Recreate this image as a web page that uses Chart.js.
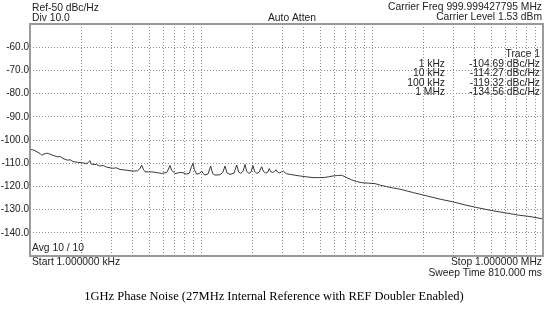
<!DOCTYPE html>
<html>
<head>
<meta charset="utf-8">
<script src="https://cdn.jsdelivr.net/npm/chart.js@4/dist/chart.umd.min.js"></script>
<style>
  html, body { margin: 0; padding: 0; background: #fff; }
  #wrap { width: 554px; height: 311px; position: relative; }
</style>
</head>
<body>
<div id="wrap"><canvas id="pn" width="554" height="311"></canvas></div>
<script>
// Phase noise trace, offset frequency in kHz vs dBc/Hz
var freqKHz = [
  1.000, 1.035, 1.070, 1.11, 1.144, 1.171, 1.21, 1.252, 1.30, 1.363,
  1.45, 1.50, 1.560, 1.66, 1.72, 1.784, 1.90, 2.042, 2.15, 2.244, 2.28, 2.335,
  2.45, 2.55, 2.68, 2.809, 3.05, 3.20, 3.360, 3.65, 4.003, 4.25, 4.40, 4.498, 4.60,
  4.704, 5.240, 5.55, 5.889, 6.30, 6.45, 6.587, 6.73, 7.047, 7.50,
  7.848, 8.20, 8.55, 8.75, 8.980, 9.15, 9.438, 9.85, 10.09, 10.3,
  10.55, 11.0, 11.39, 11.7, 12.07, 12.9, 13.4, 13.82, 14.2, 14.78,
  15.6, 16.18, 16.6, 17.07, 17.6, 18.09, 18.5, 19.09, 19.6, 20.14,
  20.6, 21.26, 21.9, 22.65, 23.2, 23.99, 24.6, 25.08, 25.6, 26.26,
  26.9, 27.46, 28.0, 28.70, 29.5, 30.29, 31.0, 31.71, 33.16, 35.5,
  37.93, 41.5, 45.18, 48.5, 51.71, 55.5, 59.16, 63.0, 66.50, 71.12,
  76.08, 81.0, 87.05, 95.0, 104.1, 112.0, 121.9, 133.0, 145.8, 175.0,
  208.9, 250.0, 298.8, 350.0, 409.6, 500.0, 613.5, 720.0, 839.5, 1000
];
var noiseDbc = [
  -104.0, -104.2, -104.6, -105.3, -105.8, -106.6, -106.0, -105.7, -106.0, -106.6,
  -107.3, -107.1, -108.0, -108.7, -108.5, -109.3, -109.6, -109.9, -110.2, -108.9, -110.4, -110.5,
  -110.6, -111.2, -111.0, -111.7, -112.2, -112.0, -112.7, -113.0, -113.4, -113.3, -112.3, -110.8, -112.6,
  -113.7, -113.8, -114.1, -114.4, -114.0, -112.5, -111.0, -113.0, -114.5, -114.0,
  -114.1, -114.7, -114.3, -112.0, -110.1, -112.8, -114.8, -114.3, -113.4, -114.5,
  -115.1, -114.6, -111.2, -114.5, -115.1, -115.0, -114.0, -111.2, -114.2, -114.8,
  -114.3, -110.8, -113.8, -114.4, -113.5, -110.5, -113.5, -114.4, -113.8, -111.0,
  -113.6, -114.4, -113.8, -111.5, -113.6, -114.3, -113.8, -112.3, -113.7, -114.0,
  -113.6, -112.8, -113.8, -114.2, -113.8, -113.4, -114.1, -114.6, -114.8, -115.2,
  -115.5, -115.9, -116.2, -116.2, -116.2, -115.9, -115.5, -115.3, -115.2, -116.2,
  -117.2, -117.9, -118.4, -118.6, -118.8, -119.5, -120.1, -120.7, -121.2, -122.7,
  -124.1, -125.5, -126.7, -128.0, -129.1, -130.4, -131.5, -132.4, -133.0, -134.0
];

// vertical grid (log minor lines) and horizontal grid
var gridFreqs = [1, 2, 3, 4, 5, 6, 7, 8, 9, 10, 20, 30, 40, 50, 60, 70, 80, 90,
                 100, 200, 300, 400, 500, 600, 700, 800, 900, 1000];
var yTicks = [-150, -140, -130, -120, -110, -100, -90, -80, -70, -60, -50];

// marker readout
var markerLabels = ['1 kHz', '10 kHz', '100 kHz', '1 MHz'];
var markerValues = [-104.69, -114.27, -119.32, -134.56];

var FONT = '"Liberation Sans", Arial, sans-serif';
var TXT = '#222';

var frame = {
  id: 'frame',
  afterDraw: function(chart) {
    var ctx = chart.ctx, a = chart.chartArea;
    ctx.save();
    // outer frame
    ctx.strokeStyle = '#9a9a9a';
    ctx.lineWidth = 2;
    ctx.strokeRect(a.left, a.top, a.right - a.left, a.bottom - a.top);

    ctx.fillStyle = TXT;
    ctx.font = '10.3px ' + FONT;
    ctx.textBaseline = 'middle';
    // header
    ctx.textAlign = 'left';
    ctx.fillText('Ref-50 dBc/Hz', 32, 8);
    ctx.fillText('Div 10.0', 32, 18);
    ctx.textAlign = 'center';
    ctx.fillText('Auto Atten', 292, 18);
    ctx.textAlign = 'right';
    ctx.fillText('Carrier Freq 999.999427795 MHz', 542, 7.5);
    ctx.fillText('Carrier Level 1.53 dBm', 542, 17.5);

    // marker table
    ctx.fillText('Trace 1', 540, 54);
    for (var i = 0; i < markerLabels.length; i++) {
      var yy = 64 + i * 9.5;
      ctx.textAlign = 'right';
      ctx.fillText(markerLabels[i], 445, yy);
      ctx.fillText(markerValues[i].toFixed(2) + ' dBc/Hz', 540, yy);
    }

    // footer
    ctx.textAlign = 'left';
    ctx.fillText('Avg 10 / 10', 32, 248);
    ctx.fillText('Start 1.000000 kHz', 32, 262);
    ctx.textAlign = 'right';
    ctx.fillText('Stop 1.000000 MHz', 542, 262);
    ctx.fillText('Sweep Time 810.000 ms', 542, 273.5);

    // caption
    ctx.textAlign = 'center';
    ctx.fillStyle = '#000';
    ctx.font = '12.5px "Liberation Serif", "Times New Roman", serif';
    ctx.fillText('1GHz Phase Noise (27MHz Internal Reference with REF Doubler Enabled)', 274, 297);
    ctx.restore();
  }
};

var pts = freqKHz.map(function(f, i) { return { x: f, y: noiseDbc[i] }; });

new Chart(document.getElementById('pn'), {
  type: 'line',
  data: {
    datasets: [{
      label: 'Trace 1',
      data: pts,
      borderColor: '#3a3a3a',
      borderWidth: 1,
      pointRadius: 0,
      tension: 0,
      fill: false
    }]
  },
  options: {
    responsive: false,
    animation: false,
    events: [],
    layout: { padding: { left: 0, top: 24, right: 11, bottom: 55 } },
    plugins: { legend: { display: false }, tooltip: { enabled: false } },
    scales: {
      x: {
        type: 'logarithmic',
        min: 1,
        max: 1000,
        afterBuildTicks: function(s) { s.ticks = gridFreqs.map(function(v) { return { value: v }; }); },
        afterFit: function(s) { s.height = 0; },
        ticks: { display: false },
        grid: { color: '#8c8c8c', lineWidth: 1, drawTicks: false },
        border: { display: false, dash: [1, 2] }
      },
      y: {
        min: -150,
        max: -50,
        afterBuildTicks: function(s) { s.ticks = yTicks.map(function(v) { return { value: v }; }); },
        afterFit: function(s) { s.width = 30; },
        ticks: {
          color: TXT,
          padding: 1,
          font: { family: FONT, size: 10 },
          callback: function(v) { return (v === -50 || v === -150) ? '' : v.toFixed(1); }
        },
        grid: { color: '#8c8c8c', lineWidth: 1, drawTicks: false },
        border: { display: false, dash: [1, 2] }
      }
    }
  },
  plugins: [frame]
});
</script>
</body>
</html>
